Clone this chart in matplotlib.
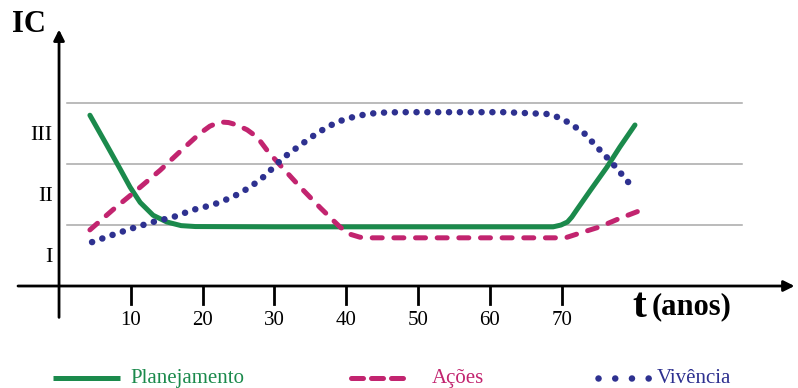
import matplotlib.pyplot as plt

# values (t in years, IC level: 1 = boundary I/II, 2 = II/III, 3 = top line)
plan_t = [4.3, 6.7, 8.5, 9.9, 11.3, 13.1, 15.0, 17.0, 19.0, 30, 40, 50, 60, 68.8,
          69.9, 70.8, 71.4, 72.1, 74.0, 76.3, 78.1, 80.2]
plan_ic = [2.80, 2.30, 1.92, 1.62, 1.37, 1.16, 1.05, 0.99, 0.975, 0.97, 0.97, 0.97, 0.97, 0.97,
           1.00, 1.05, 1.13, 1.25, 1.57, 1.95, 2.28, 2.64]

acoes_t = [4.3, 7.5, 10.9, 14.1, 16.9, 19.6, 21.0, 22.4, 23.6, 24.8, 26.2, 27.6, 29.0, 30.8,
           33.6, 36.4, 39.1, 40.5, 41.9, 43.5, 50, 60, 70.5, 72.6, 75.3, 78.1, 81.2]
acoes_ic = [0.92, 1.25, 1.58, 1.90, 2.21, 2.50, 2.62, 2.69, 2.68, 2.64, 2.56, 2.44, 2.22, 1.98,
            1.62, 1.28, 0.97, 0.85, 0.80, 0.79, 0.79, 0.79, 0.79, 0.87, 0.97, 1.11, 1.25]

viv_t = [4.6, 7.5, 10.3, 13.1, 15.9, 18.7, 21.4, 24.2, 26.6, 28.6, 31.2, 33.6, 36.1, 38.7,
         41.5, 44.3, 47.5, 55, 62, 68.0, 69.4, 70.8, 73.0, 74.9, 77.0, 78.8, 79.9]
viv_ic = [0.72, 0.84, 0.95, 1.05, 1.13, 1.25, 1.33, 1.46, 1.62, 1.80, 2.10, 2.31, 2.52, 2.69,
          2.79, 2.84, 2.85, 2.85, 2.85, 2.82, 2.77, 2.69, 2.52, 2.28, 2.02, 1.77, 1.61]

xticks = [10, 20, 30, 40, 50, 60, 70]
levels = ['I', 'II', 'III']
grid_levels = [1, 2, 3]

green = '#1b8a4c'
magenta = '#c2246f'
navy = '#2e3190'
serif = 'Liberation Serif'

fig = plt.figure(figsize=(7.98, 3.88), dpi=100)
ax = fig.add_axes([0, 0, 1, 1])
ax.set_xlim(-8.22, 102.9)
ax.set_ylim(-1.672, 4.689)
ax.axis('off')

# grid lines
for g in grid_levels:
    ax.plot([1.1, 95.1], [g, g], color='#a8a8a8', lw=1.1, zorder=1)

# axes with arrows
ax.annotate('', xy=(102.8, 0), xytext=(-6.1, 0), annotation_clip=False,
            arrowprops=dict(arrowstyle='-|>', color='black', lw=2, mutation_scale=16))
ax.annotate('', xy=(0, 4.25), xytext=(0, -0.56), annotation_clip=False,
            arrowprops=dict(arrowstyle='-|>', color='black', lw=2, mutation_scale=16))
for t in xticks:
    ax.plot([t, t], [0, -0.29], color='black', lw=2)
    ax.text(t, -0.56, str(t), ha='center', va='center', fontsize=15, family=serif)

for i, lab in enumerate(levels):
    ax.text(-0.9, i + 0.46, lab, ha='right', va='center', fontsize=16, family=serif)

ax.text(-6.6, 4.28, 'IC', ha='left', va='center', fontsize=22, fontweight='bold', family=serif)
ax.text(79.8, -0.34, 't', ha='left', va='center', fontsize=30, fontweight='bold', family=serif)
ax.text(82.5, -0.34, '(anos)', ha='left', va='center', fontsize=22, fontweight='bold', family=serif)

# curves
ax.plot(plan_t, plan_ic, color=green, lw=3.6, solid_capstyle='round',
        solid_joinstyle='round', zorder=3)
ax.plot(acoes_t, acoes_ic, color=magenta, lw=3.6, dashes=(2.0, 2.33),
        dash_capstyle='round', zorder=3)
ax.plot(viv_t, viv_ic, color=navy, lw=4.7, dashes=(0.01, 1.65),
        dash_capstyle='round', zorder=3)

# legend drawn by hand
ly = -1.51
ax.plot([-0.84, 8.5], [ly, ly], color=green, lw=3.6, solid_capstyle='butt')
ax.text(9.9, ly, 'Planejamento', color=green, ha='left', va='center', fontsize=15, family=serif)
ax.plot([40.7, 48.1], [ly, ly], color=magenta, lw=3.6, dashes=(2.4, 1.6), dash_capstyle='round')
ax.text(51.95, ly, 'Ações', color=magenta, ha='left', va='center', fontsize=15, family=serif)
ax.plot([75.07, 82.1], [ly, ly], color=navy, lw=4.7, dashes=(0.01, 2.55), dash_capstyle='round')
ax.text(83.3, ly, 'Vivência', color=navy, ha='left', va='center', fontsize=15, family=serif)

fig.savefig('out.png', dpi=100)
